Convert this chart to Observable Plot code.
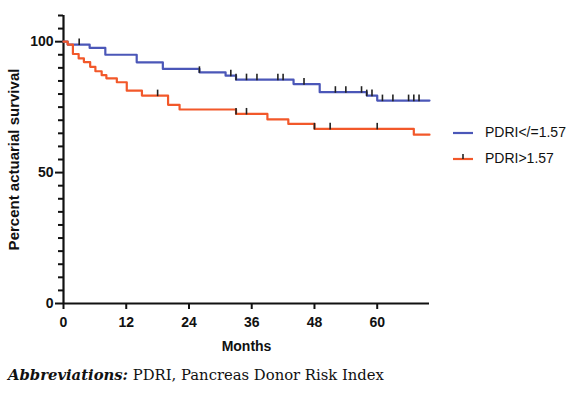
<!DOCTYPE html>
<html>
<head>
<meta charset="utf-8">
<script src="https://cdn.jsdelivr.net/npm/d3@7"></script>
<script src="https://cdn.jsdelivr.net/npm/@observablehq/plot@0.6"></script>
<style>
  html, body { margin: 0; padding: 0; background: #fff; }
  #wrap { position: relative; width: 585px; height: 396px; overflow: hidden; }
  #legend { position: absolute; left: 453px; top: 119px; font-family: "Liberation Sans", Arial, sans-serif; font-size: 14px; color: #111; }
  .item { display: flex; align-items: center; height: 26px; }
  .item svg { margin-right: 12px; }
  #caption { position: absolute; left: 8px; top: 366px; font-family: "DejaVu Serif", serif; font-size: 14.8px; color: #111; white-space: nowrap; }
  #caption b { font-style: italic; }
</style>
</head>
<body>
<div id="wrap">
  <div id="chart"></div>
  <div id="legend"></div>
  <div id="caption"><b>Abbreviations:</b> PDRI, Pancreas Donor Risk Index</div>
</div>
<script>
// Series names
const seriesNames = ["PDRI</=1.57", "PDRI>1.57"];
const seriesColors = ["#4b57b8", "#f2582a"];

// Kaplan-Meier step points (months, % survival), PDRI <= 1.57
const blueTimes = [0, 0.8, 5, 8, 14, 19, 26, 31, 33, 44, 49, 58, 60, 70];
const blueSurv  = [100, 98.9, 97.6, 95.0, 92.1, 89.6, 88.3, 87.0, 85.5, 83.8, 80.7, 79.4, 77.5, 77.5];
const blueCensor = [3, 26, 32, 33, 35, 37, 41, 42, 46, 52, 54, 57, 58, 59, 61, 63, 66, 67, 68];

// PDRI > 1.57
const redTimes = [0, 0.8, 1.8, 2.9, 3.9, 5.1, 6.1, 7.3, 8.2, 10.2, 12.1, 15, 20, 22.2, 33, 39, 43, 48, 67, 70];
const redSurv  = [100, 98.9, 95.3, 93.6, 92.2, 90.4, 88.7, 87.2, 86.0, 84.5, 81.3, 79.4, 75.9, 74.1, 72.4, 70.3, 68.6, 66.7, 64.5, 64.5];
const redCensor = [18, 33, 35, 48, 51, 60];

// Axis ticks
const xTicks = [0, 12, 24, 36, 48, 60];
const yMajor = [0, 50, 100];
const yMinor = d3.range(0, 111, 5).filter(v => !yMajor.includes(v));

const xLabel = "Months";
const yLabel = "Percent actuarial survival";

function steps(times, surv, name) {
  return times.map((t, i) => ({t, s: surv[i], name}));
}
function survAt(times, surv, t) {
  let s = surv[0];
  for (let i = 0; i < times.length; i++) if (times[i] <= t) s = surv[i];
  return s;
}
function censors(cs, times, surv, name) {
  return cs.map(t => ({t, s: survAt(times, surv, t), name}));
}

const blue = steps(blueTimes, blueSurv, seriesNames[0]);
const red = steps(redTimes, redSurv, seriesNames[1]);
const cBlue = censors(blueCensor, blueTimes, blueSurv, seriesNames[0]);
const cRed = censors(redCensor, redTimes, redSurv, seriesNames[1]);

const fontSans = "Liberation Sans, Arial, sans-serif";

const chart = Plot.plot({
  width: 585,
  height: 360,
  marginLeft: 63,
  marginRight: 156,
  marginTop: 15,
  marginBottom: 57,
  style: {fontFamily: fontSans, fontSize: "14px", color: "#111", background: "#fff"},
  x: {domain: [0, 70]},
  y: {domain: [0, 110]},
  marks: [
    Plot.axisY({ticks: yMinor, tickSize: 5, text: null, strokeWidth: 2, label: null, stroke: "#111"}),
    Plot.axisY({ticks: yMajor, tickSize: 8, tickPadding: 2, strokeWidth: 2, label: null, fontWeight: "bold", stroke: "#111", fill: "#111"}),
    Plot.axisX({ticks: xTicks, tickSize: 6, tickPadding: 8, strokeWidth: 2, label: null, fontWeight: "bold", stroke: "#111", fill: "#111"}),
    Plot.ruleX([0], {y1: 0, y2: 110, stroke: "#111", strokeWidth: 2.2}),
    Plot.ruleY([0], {x1: 0, x2: 70, stroke: "#111", strokeWidth: 2.2}),
    Plot.line(blue, {x: "t", y: "s", curve: "step-after", stroke: seriesColors[0], strokeWidth: 2.2}),
    Plot.line(red, {x: "t", y: "s", curve: "step-after", stroke: seriesColors[1], strokeWidth: 2.2}),
    Plot.ruleX(cBlue, {x: "t", y1: d => d.s - 0.4, y2: d => d.s + 2.1, stroke: "#222", strokeWidth: 1.6}),
    Plot.ruleX(cRed, {x: "t", y1: d => d.s - 0.4, y2: d => d.s + 2.1, stroke: "#222", strokeWidth: 1.6}),
    Plot.text([xLabel], {frameAnchor: "bottom", dy: 47, fontWeight: "bold", fontSize: 14, fill: "#111"}),
    Plot.text([yLabel], {frameAnchor: "left", textAnchor: "middle", dx: -49, rotate: -90, fontWeight: "bold", fontSize: 15, fill: "#111"})
  ]
});
document.getElementById("chart").appendChild(chart);

// Legend
const legend = document.getElementById("legend");
seriesNames.forEach((name, i) => {
  const row = document.createElement("div");
  row.className = "item";
  const tick = i === 1 ? `<line x1="10" x2="10" y1="2" y2="7" stroke="#222" stroke-width="1.6"/>` : "";
  row.innerHTML = `<svg width="20" height="12"><line x1="0" x2="20" y1="7" y2="7" stroke="${seriesColors[i]}" stroke-width="2.2"/>${tick}</svg><span></span>`;
  row.querySelector("span").textContent = name;
  legend.appendChild(row);
});
</script>
</body>
</html>
